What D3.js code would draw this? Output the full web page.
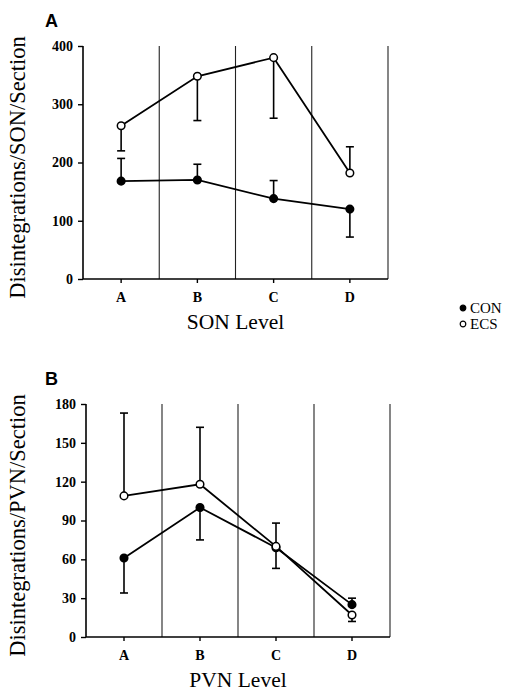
<!DOCTYPE html>
<html>
<head>
<meta charset="utf-8">
<script src="https://cdn.jsdelivr.net/npm/d3@7"></script>
<style>
  body { margin: 0; background: #fff; }
  svg { display: block; }
</style>
</head>
<body>
<div id="chart"></div>
<script>
// data
const levels = ["A", "B", "C", "D"];

// SON panel
const sonCon = [168, 170, 138, 120];
const sonEcs = [263, 348, 380, 182];
// signed error: + drawn up, - drawn down
const sonConErr = [39, 27, 31, -48];
const sonEcsErr = [-43, -76, -104, 45];
const sonTicks = [0, 100, 200, 300, 400];

// PVN panel
const pvnCon = [61, 100, 69, 25];
const pvnEcs = [109, 118, 70, 17];
const pvnConErr = [-27, -25, -16, 5];
const pvnEcsErr = [64, 44, 18, -5];
const pvnTicks = [0, 30, 60, 90, 120, 150, 180];

const legendItems = ["CON", "ECS"];

var w = 509, h = 692;
var serif = "'Liberation Serif', 'DejaVu Serif', serif";

var svg = d3.select("#chart").append("svg")
  .attr("width", w)
  .attr("height", h);

function drawPanel(opt) {
  var g = svg.append("g");

  var xScale = d3.scaleBand()
    .domain(levels)
    .range([opt.left, opt.right])
    .padding(0);
  var yScale = d3.scaleLinear()
    .domain([0, d3.max(opt.ticks)])
    .range([opt.bottom, opt.top]);
  var cx = d => xScale(d) + xScale.bandwidth() / 2;

  // vertical separators between levels + right border
  g.append("g").selectAll("line")
    .data(levels)
    .enter().append("line")
    .attr("x1", d => xScale(d) + xScale.bandwidth())
    .attr("x2", d => xScale(d) + xScale.bandwidth())
    .attr("y1", opt.top)
    .attr("y2", opt.bottom)
    .attr("stroke", "#222")
    .attr("stroke-width", 1.1);

  // y axis
  var yAxis = g.append("g")
    .attr("transform", "translate(" + opt.left + ",0)")
    .call(d3.axisLeft(yScale).tickValues(opt.ticks).tickSize(5).tickPadding(5));
  yAxis.select(".domain").attr("stroke", "#000").attr("stroke-width", 1.6)
    .attr("d", "M0," + opt.top + "V" + opt.bottom);
  yAxis.selectAll(".tick line").attr("stroke-width", 1.4);
  yAxis.selectAll("text")
    .attr("font-family", serif)
    .attr("font-size", 14)
    .attr("font-weight", "bold")
    .attr("fill", "#000");

  // x axis
  var xAxis = g.append("g")
    .attr("transform", "translate(0," + opt.bottom + ")")
    .call(d3.axisBottom(xScale).tickSize(4).tickPadding(9));
  xAxis.select(".domain").attr("stroke-width", 1.6)
    .attr("d", "M" + opt.left + ",0H" + opt.right);
  xAxis.selectAll(".tick line").attr("stroke-width", 1.4);
  xAxis.selectAll("text")
    .attr("font-family", serif)
    .attr("font-size", 14)
    .attr("font-weight", "bold")
    .attr("fill", "#000");

  // axis titles
  g.append("text")
    .text(opt.xTitle)
    .attr("x", (opt.left + opt.right) / 2)
    .attr("y", opt.bottom + 50)
    .attr("text-anchor", "middle")
    .attr("font-family", serif)
    .attr("font-size", 21.5);
  g.append("text")
    .text(opt.yTitle)
    .attr("transform", "translate(25," + ((opt.top + opt.bottom) / 2 + 5) + ") rotate(-90)")
    .attr("text-anchor", "middle")
    .attr("font-family", serif)
    .attr("font-size", 22.5);

  // panel letter
  g.append("text")
    .text(opt.letter)
    .attr("x", 45)
    .attr("y", opt.top - 19)
    .attr("font-family", "'Liberation Sans', Arial, sans-serif")
    .attr("font-weight", "bold")
    .attr("font-size", 18);

  var series = [
    {vals: opt.con, err: opt.conErr, fill: "#000"},
    {vals: opt.ecs, err: opt.ecsErr, fill: "#fff"}
  ];

  series.forEach(s => {
    var pts = levels.map((d, i) => ({lv: d, v: s.vals[i], e: s.err[i]}));

    // error bars
    var eb = g.append("g").selectAll("g")
      .data(pts)
      .enter().append("g");
    eb.append("line")
      .attr("x1", d => cx(d.lv))
      .attr("x2", d => cx(d.lv))
      .attr("y1", d => yScale(d.v))
      .attr("y2", d => yScale(d.v + d.e))
      .attr("stroke", "#000")
      .attr("stroke-width", 1.6);
    eb.append("line")
      .attr("x1", d => cx(d.lv) - 4)
      .attr("x2", d => cx(d.lv) + 4)
      .attr("y1", d => yScale(d.v + d.e))
      .attr("y2", d => yScale(d.v + d.e))
      .attr("stroke", "#000")
      .attr("stroke-width", 1.6);

    // connecting line
    var line = d3.line()
      .x(d => cx(d.lv))
      .y(d => yScale(d.v));
    g.append("path")
      .datum(pts)
      .attr("d", line)
      .attr("fill", "none")
      .attr("stroke", "#000")
      .attr("stroke-width", 1.8);

    // markers
    g.append("g").selectAll("circle")
      .data(pts)
      .enter().append("circle")
      .attr("cx", d => cx(d.lv))
      .attr("cy", d => yScale(d.v))
      .attr("r", 3.8)
      .attr("fill", s.fill)
      .attr("stroke", "#000")
      .attr("stroke-width", 1.5);
  });
}

drawPanel({
  letter: "A", left: 83, right: 388, top: 46, bottom: 279,
  ticks: sonTicks, con: sonCon, ecs: sonEcs, conErr: sonConErr, ecsErr: sonEcsErr,
  xTitle: "SON Level", yTitle: "Disintegrations/SON/Section"
});

drawPanel({
  letter: "B", left: 86, right: 390, top: 404, bottom: 637,
  ticks: pvnTicks, con: pvnCon, ecs: pvnEcs, conErr: pvnConErr, ecsErr: pvnEcsErr,
  xTitle: "PVN Level", yTitle: "Disintegrations/PVN/Section"
});

// legend
var legend = svg.append("g").selectAll("g")
  .data(legendItems)
  .enter().append("g")
  .attr("transform", (d, i) => "translate(463," + (308 + i * 16) + ")");
legend.append("circle")
  .attr("r", 2.8)
  .attr("fill", (d, i) => i === 0 ? "#000" : "#fff")
  .attr("stroke", "#000")
  .attr("stroke-width", 1.2);
legend.append("text")
  .text(d => d)
  .attr("x", 7)
  .attr("y", 5)
  .attr("font-family", serif)
  .attr("font-size", 15);
</script>
</body>
</html>
